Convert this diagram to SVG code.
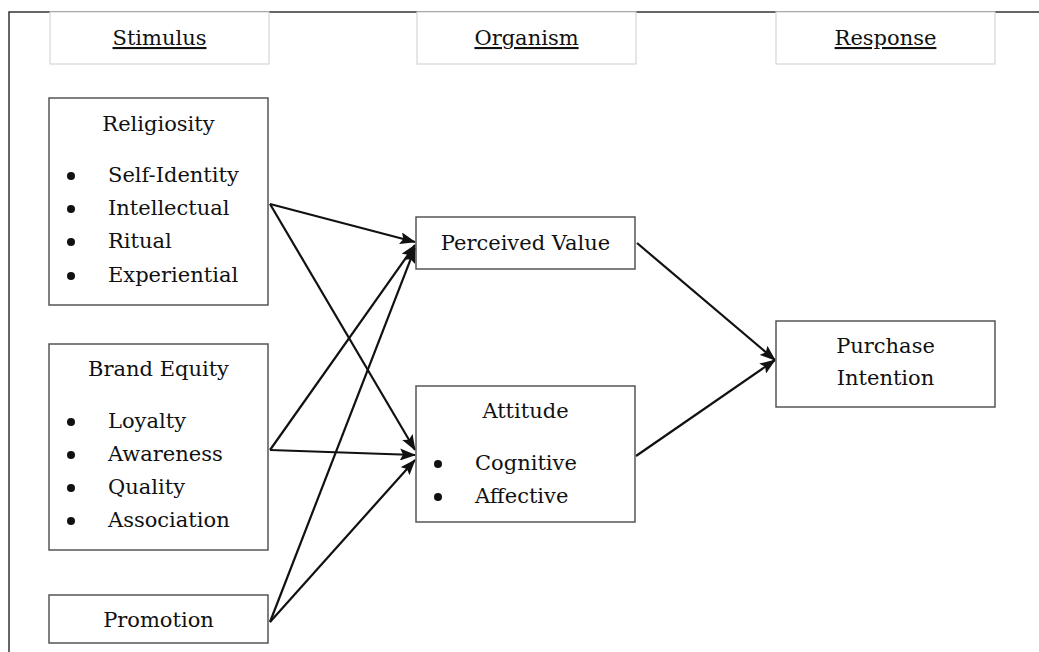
<svg xmlns="http://www.w3.org/2000/svg" width="1039" height="652" viewBox="0 0 1039 652">
  <style>
    text { font-family: "DejaVu Serif", "Liberation Serif", serif; font-size: 21px; fill: #111; }
    .c { text-anchor: middle; }
    .hdr { fill: #fff; stroke: #d6d6d6; stroke-width: 1.2; }
    .box { fill: #fff; stroke: #555; stroke-width: 1.5; }
    .frame { fill: none; stroke: #333; stroke-width: 1.5; }
    .edge { fill: none; stroke: #111; stroke-width: 2.2; marker-end: url(#arrow); }
    .u { text-decoration: underline; }
    .dot { fill: #111; }
  </style>
  <defs>
    <marker id="arrow" viewBox="0 0 16 12" refX="15" refY="6" markerWidth="16" markerHeight="12" markerUnits="userSpaceOnUse" orient="auto">
      <path d="M0,0 L16,6 L0,12 L3,6 Z" fill="#111"/>
    </marker>
  </defs>
  <rect width="1039" height="652" fill="#fff"/>

  <!-- page frame -->
  <path class="frame" d="M9,652 V12 H1039"/>

  <!-- column headers -->
  <g id="hdr-stimulus">
    <rect class="hdr" x="50" y="12" width="219" height="52"/>
    <text class="c u" x="159.5" y="45">Stimulus</text>
  </g>
  <g id="hdr-organism">
    <rect class="hdr" x="417" y="12" width="219" height="52"/>
    <text class="c u" x="526.5" y="45">Organism</text>
  </g>
  <g id="hdr-response">
    <rect class="hdr" x="776" y="12" width="219" height="52"/>
    <text class="c u" x="885.5" y="45">Response</text>
  </g>

  <!-- connectors -->
  <g id="connectors">
    <line class="edge" x1="270" y1="204" x2="415" y2="242"/>
    <line class="edge" x1="270" y1="204" x2="415" y2="450"/>
    <line class="edge" x1="270" y1="450" x2="415" y2="245"/>
    <line class="edge" x1="270" y1="450" x2="415" y2="455"/>
    <line class="edge" x1="270" y1="622" x2="415" y2="248"/>
    <line class="edge" x1="270" y1="622" x2="415" y2="460"/>
    <line class="edge" x1="637" y1="243" x2="775" y2="360"/>
    <line class="edge" x1="636" y1="456" x2="775" y2="360"/>
  </g>

  <!-- stimulus nodes -->
  <g id="religiosity">
    <rect class="box" x="49" y="98" width="219" height="207"/>
    <text class="c" x="158.5" y="131">Religiosity</text>
    <circle class="dot" cx="71" cy="176" r="4"/>
    <circle class="dot" cx="71" cy="209" r="4"/>
    <circle class="dot" cx="71" cy="242" r="4"/>
    <circle class="dot" cx="71" cy="276" r="4"/>
    <text x="108" y="182">Self-Identity</text>
    <text x="108" y="215">Intellectual</text>
    <text x="108" y="248">Ritual</text>
    <text x="108" y="282">Experiential</text>
  </g>
  <g id="brand-equity">
    <rect class="box" x="49" y="344" width="219" height="206"/>
    <text class="c" x="158.5" y="376">Brand Equity</text>
    <circle class="dot" cx="71" cy="422" r="4"/>
    <circle class="dot" cx="71" cy="455" r="4"/>
    <circle class="dot" cx="71" cy="488" r="4"/>
    <circle class="dot" cx="71" cy="521" r="4"/>
    <text x="108" y="428">Loyalty</text>
    <text x="108" y="461">Awareness</text>
    <text x="108" y="494">Quality</text>
    <text x="108" y="527">Association</text>
  </g>
  <g id="promotion">
    <rect class="box" x="49" y="595" width="219" height="48"/>
    <text class="c" x="158.5" y="627">Promotion</text>
  </g>

  <!-- organism nodes -->
  <g id="perceived-value">
    <rect class="box" x="416" y="217" width="219" height="52"/>
    <text class="c" x="525.5" y="250">Perceived Value</text>
  </g>
  <g id="attitude">
    <rect class="box" x="416" y="386" width="219" height="136"/>
    <text class="c" x="525.5" y="418">Attitude</text>
    <circle class="dot" cx="438" cy="464" r="4"/>
    <circle class="dot" cx="438" cy="497" r="4"/>
    <text x="475" y="470">Cognitive</text>
    <text x="475" y="503">Affective</text>
  </g>

  <!-- response node -->
  <g id="purchase-intention">
    <rect class="box" x="776" y="321" width="219" height="86"/>
    <text class="c" x="885.5" y="353">Purchase</text>
    <text class="c" x="885.5" y="385">Intention</text>
  </g>
</svg>
